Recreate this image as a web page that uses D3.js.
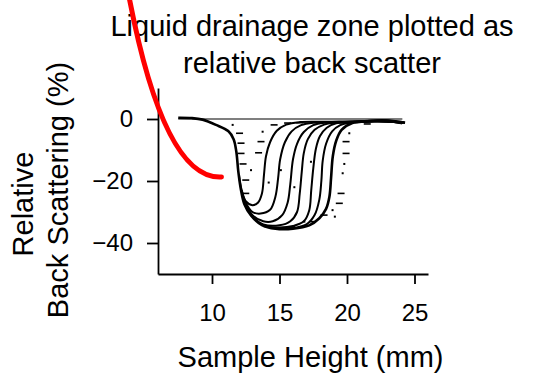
<!DOCTYPE html>
<html>
<head>
<meta charset="utf-8">
<script src="https://cdn.jsdelivr.net/npm/d3@7"></script>
<style>
  html, body { margin: 0; padding: 0; background: #fff; }
  svg { display: block; font-family: "Liberation Sans", Arial, sans-serif; }
</style>
</head>
<body>
<script>
// tick labels
var xTicks = [10, 15, 20, 25];
var yTicks = [0, -20, -40];

// profile at time zero (flat)
var profile0 = [[7.5, 0], [24.1, 0]];

// intermediate profiles, the drainage zone grows to the right
var profile1 = [[12.0, -18], [12.2, -23], [12.5, -26.5], [13.0, -27.8], [13.4, -27], [13.7, -24], [13.85, -18], [14.0, -12], [14.3, -7.5], [14.8, -3.8], [15.5, -1.8], [16.5, -1.0], [18.5, -0.9], [21, -0.7], [24, -1.0]];
var profile2 = [[12.2, -23], [12.5, -27], [13.0, -30], [13.6, -30.5], [14.3, -29.3], [14.7, -25], [14.9, -19], [15.05, -13], [15.4, -7.5], [15.9, -4], [16.6, -2], [17.5, -1.2], [19.5, -1.0], [22, -0.6], [24.2, -1.3]];
var profile3 = [[12.5, -27.5], [13.0, -31], [13.8, -33], [14.5, -33], [15.2, -31], [15.6, -27], [15.8, -21], [16.0, -13], [16.3, -8], [16.8, -4.2], [17.5, -2], [18.3, -1.2], [20, -1.1], [22.5, -0.5], [24.0, -1.4]];
var profile4 = [[13.0, -31.5], [13.8, -34], [15.0, -34.3], [15.8, -33], [16.3, -30], [16.5, -24], [16.65, -17], [16.8, -11], [17.1, -6.5], [17.6, -3.5], [18.3, -1.8], [19.0, -1.2], [21, -1.0], [23, -0.4], [24.3, -1.1]];
var profile5 = [[13.8, -34.5], [15.0, -35], [16.0, -34.5], [16.8, -33], [17.2, -29.5], [17.35, -23], [17.5, -16], [17.7, -9.5], [18.0, -5.5], [18.5, -2.8], [19.2, -1.4], [21, -0.9], [23.5, -0.7], [24.1, -1.5]];
var profile6 = [[15.0, -35.2], [16.2, -35], [17.0, -34], [17.6, -31], [17.95, -26], [18.1, -20], [18.2, -13.5], [18.45, -8], [18.9, -4], [19.5, -2], [20.2, -1.2], [22, -0.8], [24.2, -1.0]];
// final profile (envelope)
var profile7 = [[7.5, 0.4], [8.5, 0.3], [9.3, -0.2], [10.3, -1.9], [11.2, -3.9], [11.6, -6.5], [11.8, -10.5], [11.95, -17], [12.15, -23], [12.4, -27.5], [12.9, -31.2], [13.7, -34.2], [14.7, -35.4], [16, -35.4], [17.2, -34.3], [17.95, -32], [18.45, -29], [18.7, -25], [18.82, -19], [18.95, -12], [19.2, -7], [19.6, -3.5], [20.4, -1.3], [21.4, -0.8], [22.6, -0.4], [23.5, -0.9], [24.3, -1.2]];

var profiles = [profile1, profile2, profile3, profile4, profile5, profile6];

// scattered point marks
var dashPoints = [[12.04, -4.6], [12.15, -7.8], [12.15, -11.1], [12.5, -19.7], [12.5, -24], [13.63, -7.3], [13.45, -10.9], [14.6, -1.9], [15.6, -1.3], [16.5, -1.2],
  [19.93, -7.3], [19.93, -11.1], [19.56, -24], [19.43, -27.2], [18.3, -31], [17.45, -33.1], [15.48, -35.3], [15.9, -34.8], [12.3, -14.5], [21.5, -1.6]];
var dotPoints = [[12.89, -16.5], [15.1, -16.5], [17.33, -13.8], [13.75, -4.1], [20.17, -4.6], [19.68, -17.5], [18.93, -29.4], [16.84, -33.1], [11.53, -1.9], [14.2, -20.5], [16.1, -22], [19.8, -14.5], [19.1, -31.5]];

// red annotation stroke: start, control, end (data units)
var arrowPts = [[3.9, 38.4], [6.5, -19.7], [10.7, -18.7]];

var W = 555, H = 374;
var svg = d3.select('body').append('svg').attr('width', W).attr('height', H);

var x = d3.scaleLinear().domain([6, 26]).range([158, 428]);
var y = d3.scaleLinear().domain([-50, 10]).range([274, 88]);

var line = d3.line()
  .x(function (d) { return x(d[0]); })
  .y(function (d) { return y(d[1]); })
  .curve(d3.curveCatmullRom.alpha(0.5));

// axes
var gy = svg.append('g').attr('transform', 'translate(158,0)')
  .call(d3.axisLeft(y).tickValues(yTicks).tickSize(11).tickSizeOuter(0).tickPadding(14));
var gx = svg.append('g').attr('transform', 'translate(0,274)')
  .call(d3.axisBottom(x).tickValues(xTicks).tickSize(10).tickSizeOuter(0).tickPadding(20));
[gx, gy].forEach(function (g) {
  g.attr('font-family', null).attr('font-size', null);
  g.selectAll('path, line').attr('stroke', '#000').attr('stroke-width', 1.8);
  g.selectAll('text').attr('fill', '#000').style('font-size', '24px');
});

// curves
svg.append('path').datum(profile0).attr('d', line)
  .attr('fill', 'none').attr('stroke', '#000').attr('stroke-width', 1.2);

svg.selectAll('path.prof')
  .data(profiles)
  .enter()
  .append('path')
  .attr('class', 'prof')
  .attr('d', line)
  .attr('fill', 'none')
  .attr('stroke', '#000')
  .attr('stroke-width', 2);

svg.append('path').datum(profile7).attr('d', line)
  .attr('fill', 'none').attr('stroke', '#000').attr('stroke-width', 2.6);

svg.selectAll('rect.dash')
  .data(dashPoints)
  .enter()
  .append('rect')
  .attr('class', 'dash')
  .attr('x', function (d) { return x(d[0]) - 3.5; })
  .attr('y', function (d) { return y(d[1]) - 0.8; })
  .attr('width', 7).attr('height', 1.6)
  .attr('fill', '#000');

svg.selectAll('rect.dot')
  .data(dotPoints)
  .enter()
  .append('rect')
  .attr('class', 'dot')
  .attr('x', function (d) { return x(d[0]) - 1; })
  .attr('y', function (d) { return y(d[1]) - 1; })
  .attr('width', 2).attr('height', 2)
  .attr('fill', '#000');

// titles
var title = svg.append('text').attr('text-anchor', 'middle').style('font-size', '29px');
title.append('tspan').attr('x', 312).attr('y', 36).text('Liquid drainage zone plotted as');
title.append('tspan').attr('x', 312).attr('y', 72.5).text('relative back scatter');

svg.append('text').attr('x', 310.5).attr('y', 367).attr('text-anchor', 'middle')
  .style('font-size', '29px').text('Sample Height (mm)');

svg.append('text').attr('transform', 'translate(33,204) rotate(-90)')
  .attr('text-anchor', 'middle').style('font-size', '29px').text('Relative');
svg.append('text').attr('transform', 'translate(68,190) rotate(-90)')
  .attr('text-anchor', 'middle').style('font-size', '29px').text('Back Scattering (%)');

// red annotation
var p = d3.path();
p.moveTo(x(arrowPts[0][0]), y(arrowPts[0][1]));
p.quadraticCurveTo(x(arrowPts[1][0]), y(arrowPts[1][1]), x(arrowPts[2][0]), y(arrowPts[2][1]));
svg.append('path').attr('d', p.toString())
  .attr('fill', 'none').attr('stroke', '#f00').attr('stroke-width', 5).attr('stroke-linecap', 'round');
</script>
</body>
</html>
